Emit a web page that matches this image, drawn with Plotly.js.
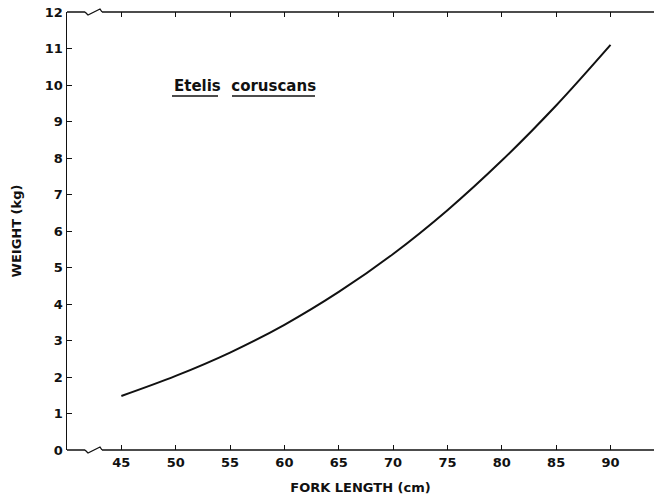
<!DOCTYPE html>
<html>
<head>
<meta charset="utf-8">
<script src="https://cdn.plot.ly/plotly-3.0.1.min.js"></script>
<style>html,body{margin:0;padding:0;background:#fff;}#chart{width:654px;height:499px;}</style>
</head>
<body>
<div id="chart"></div>
<script>
// Fork length (cm) and weight (kg)
const forkLength = [45, 50, 55, 60, 65, 70, 75, 80, 85, 90];
const weightKg   = [1.48, 2.03, 2.67, 3.43, 4.33, 5.37, 6.57, 7.93, 9.44, 11.1];
const xTicks = [45, 50, 55, 60, 65, 70, 75, 80, 85, 90];
const yTicks = [0, 1, 2, 3, 4, 5, 6, 7, 8, 9, 10, 11, 12];
const speciesLabel = "<b>Etelis  coruscans</b>";

const ink = '#111';
const fam = 'DejaVu Sans, Liberation Sans, Arial, sans-serif';

const trace = {
  x: forkLength, y: weightKg, type: 'scatter', mode: 'lines',
  line: {color: ink, width: 2, shape: 'spline', smoothing: 1},
  hoverinfo: 'skip'
};

// axis-break geometry in paper units (plot area 587 x 438 px)
const PW = 587, PH = 438;
function px(v) { return v / PW; }
function py(v) { return v / PH; }
function axisWithBreak(y) {
  return [
    {type: 'line', xref: 'paper', yref: 'paper', x0: 0, x1: px(18), y0: y, y1: y, line: {color: ink, width: 1.5}},
    {type: 'path', xref: 'paper', yref: 'paper',
     path: 'M' + px(18) + ',' + y + ' L' + px(21) + ',' + (y - py(3)) + ' L' + px(33) + ',' + (y + py(3)) + ' L' + px(35) + ',' + y,
     line: {color: ink, width: 1.3}},
    {type: 'line', xref: 'paper', yref: 'paper', x0: px(35), x1: 1, y0: y, y1: y, line: {color: ink, width: 1.5}}
  ];
}

const tickFont = {family: fam, size: 13, color: ink, weight: 'bold'};
const titleFont = {family: fam, size: 13, color: ink, weight: 'bold'};

const layout = {
  width: 654, height: 499,
  margin: {l: 67, r: 0, t: 12, b: 49},
  paper_bgcolor: '#fff', plot_bgcolor: '#fff',
  showlegend: false,
  font: {family: fam, size: 12, color: ink},
  xaxis: {
    range: [40, 94], tickvals: xTicks, ticktext: xTicks.map(String),
    ticks: 'inside', ticklen: 5, tickwidth: 1, tickcolor: ink,
    showline: true, linecolor: 'rgba(0,0,0,0)', linewidth: 1.5, mirror: 'ticks',
    showgrid: false, zeroline: false, tickfont: tickFont,
    title: {text: 'FORK LENGTH (cm)', font: titleFont, standoff: 14}
  },
  yaxis: {
    range: [0, 12], tickvals: yTicks, ticktext: yTicks.map(String),
    ticks: 'inside', ticklen: 5, tickwidth: 1, tickcolor: ink,
    showline: true, linecolor: ink, linewidth: 1.5, mirror: false,
    showgrid: false, zeroline: false, tickfont: tickFont,
    title: {text: 'WEIGHT (kg)', font: titleFont, standoff: 20}
  },
  annotations: [{
    x: px(105), y: 1 - py(74), xref: 'paper', yref: 'paper', xanchor: 'left', yanchor: 'middle',
    text: speciesLabel, showarrow: false, font: {size: 15, color: ink, family: fam}
  }],
  shapes: [].concat(axisWithBreak(0), axisWithBreak(1), [
    {type: 'line', xref: 'paper', yref: 'paper', x0: px(105), x1: px(151), y0: 1 - py(84), y1: 1 - py(84), line: {color: ink, width: 1.5}},
    {type: 'line', xref: 'paper', yref: 'paper', x0: px(165), x1: px(248), y0: 1 - py(84), y1: 1 - py(84), line: {color: ink, width: 1.5}}
  ])
};

Plotly.newPlot('chart', [trace], layout, {displayModeBar: false, staticPlot: true});
</script>
</body>
</html>
